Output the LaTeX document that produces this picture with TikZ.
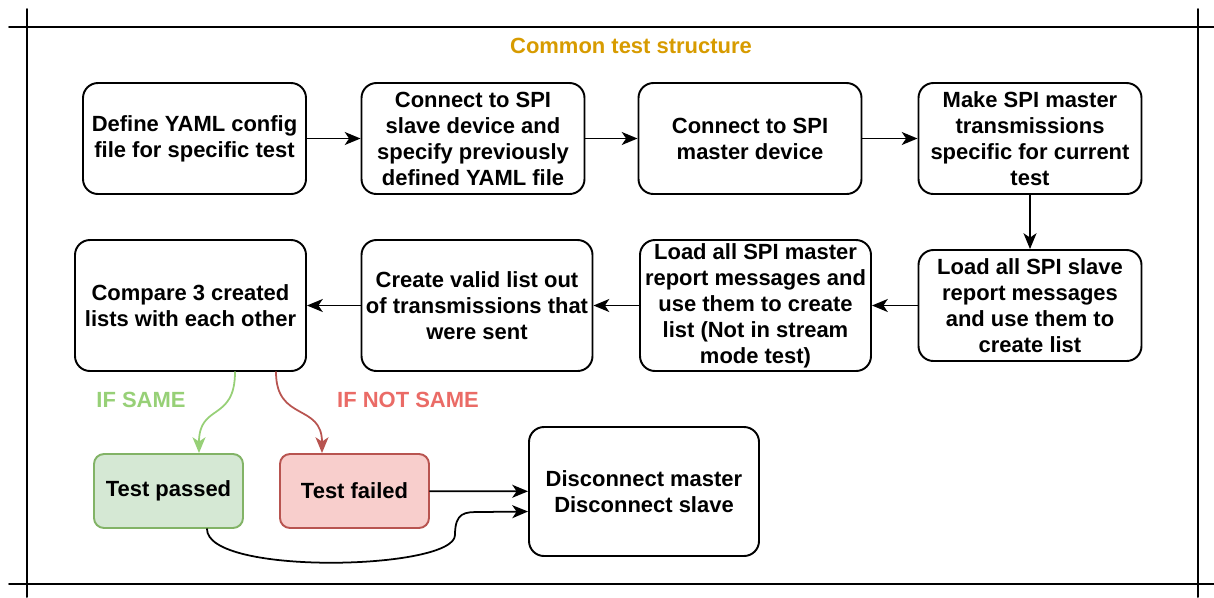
\documentclass[tikz,border=0pt]{standalone}
\usepackage{fontspec}
\setmainfont{Liberation Sans}
\usetikzlibrary{arrows.meta}
\definecolor{titleC}{HTML}{D79B00}
\definecolor{okFill}{HTML}{D5E8D4}
\definecolor{okLine}{HTML}{82B366}
\definecolor{okArrow}{HTML}{97D077}
\definecolor{badFill}{HTML}{F8CECC}
\definecolor{badLine}{HTML}{B85450}
\definecolor{badText}{HTML}{EA6B66}

\begin{document}
\begin{tikzpicture}[>={Stealth[length=9pt, width=7.4pt, inset=2.5pt]}, line cap=round,
  txt/.style={font=\bfseries\fontsize{12.5}{14.8}\selectfont, align=center},
  stepbox/.style={txt, draw, line width=1.1pt, rounded corners=0.3cm, inner sep=0pt,
    minimum width=4.46cm, minimum height=2.22cm},
  tallbox/.style={stepbox, minimum width=4.62cm, minimum height=2.62cm},
  resbox/.style={stepbox, rounded corners=0.2cm, minimum width=2.98cm, minimum height=1.48cm},
  flow/.style={->, line width=1pt}]
\useasboundingbox (0,0) rectangle (24.28,-11.94);
% ---------- rahmen ----------
\draw[line width=1.1pt] (0.18,-0.54) -- (24.28,-0.54);
\draw[line width=1.1pt] (0.18,-11.68) -- (24.28,-11.68);
\draw[line width=1.1pt] (0.54,-0.18) -- (0.54,-11.94);
\draw[line width=1.1pt] (23.96,-0.18) -- (23.96,-11.94);
\node[txt, text=titleC] (title) at (12.62,-0.92) {Common test structure};
% ---------- erste reihe ----------
\node[stepbox] (yaml) at (3.89,-2.77) {Define YAML config\\file for specific test};
\node[stepbox] (slave) at (9.46,-2.77) {Connect to SPI\\slave device and\\specify previously\\defined YAML file};
\node[stepbox] (master) at (15.0,-2.77) {Connect to SPI\\master device};
\node[stepbox] (trans) at (20.6,-2.77) {Make SPI master\\transmissions\\specific for current\\test};
% ---------- zweite reihe ----------
\node[stepbox] (sllist) at (20.6,-6.11) {Load all SPI slave\\report messages\\and use them to\\create list};
\node[tallbox] (mslist) at (15.11,-6.11) {Load all SPI master\\report messages and\\use them to create\\list (Not in stream\\mode test)};
\node[tallbox] (valid) at (9.54,-6.11) {Create valid list out\\of transmissions that\\were sent};
\node[tallbox] (cmp) at (3.81,-6.11) {Compare 3 created\\lists with each other};
% ---------- ergebnis ----------
\node[resbox, fill=okFill, draw=okLine] (pass) at (3.37,-9.82) {Test passed};
\node[resbox, fill=badFill, draw=badLine] (fail) at (7.09,-9.82) {Test failed};
\node[stepbox, minimum width=4.6cm, minimum height=2.58cm] (disc) at (12.88,-9.83) {Disconnect master\\Disconnect slave};
\node[txt, text=okArrow] (same) at (2.82,-8.0) {IF SAME};
\node[txt, text=badText] (notsame) at (8.16,-8.0) {IF NOT SAME};
% pfeile
\draw[flow] (yaml) -- (slave);
\draw[flow] (slave) -- (master);
\draw[flow] (master) -- (trans);
\draw[flow] (trans) -- (sllist);
\draw[flow] (sllist) -- (mslist);
\draw[flow] (mslist) -- (valid);
\draw[flow] (valid) -- (cmp);
\draw[flow, okArrow] ([xshift=0.89cm]cmp.south) .. controls +(0,-1.0) and +(0,1.0) .. ([xshift=0.61cm]pass.north);
\draw[flow, badLine] ([xshift=1.71cm]cmp.south) .. controls +(0,-1.0) and +(0,1.0) .. ([xshift=-0.65cm]fail.north);
\draw[flow] (fail) -- (disc);
\draw[flow] ([xshift=0.77cm]pass.south) .. controls +(0,-0.94) and +(0,-0.7) .. (9.1,-10.7) .. controls +(0,0.46) and +(-0.3,0) .. (9.6,-10.24) -- ([yshift=-0.4cm]disc.west);
\end{tikzpicture}
\end{document}
